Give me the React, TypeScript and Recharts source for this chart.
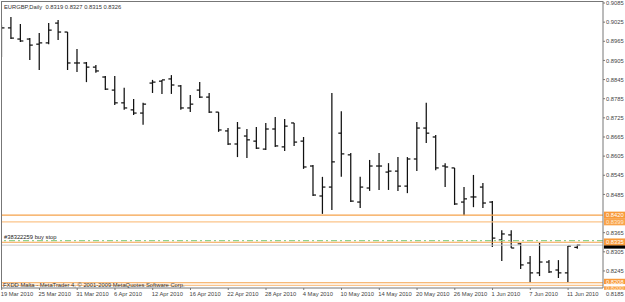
import React from 'react';
import { ComposedChart, Bar, XAxis, YAxis, ReferenceLine } from 'recharts';

// EURGBP daily bars, 19 Mar 2010 .. 14 Jun 2010 (weekdays only)
const dates = [
  '19 Mar 2010', '22 Mar 2010', '23 Mar 2010', '24 Mar 2010', '25 Mar 2010', '26 Mar 2010',
  '29 Mar 2010', '30 Mar 2010', '31 Mar 2010', '1 Apr 2010', '2 Apr 2010',
  '5 Apr 2010', '6 Apr 2010', '7 Apr 2010', '8 Apr 2010', '9 Apr 2010',
  '12 Apr 2010', '13 Apr 2010', '14 Apr 2010', '15 Apr 2010', '16 Apr 2010',
  '19 Apr 2010', '20 Apr 2010', '21 Apr 2010', '22 Apr 2010', '23 Apr 2010',
  '26 Apr 2010', '27 Apr 2010', '28 Apr 2010', '29 Apr 2010', '30 Apr 2010',
  '3 May 2010', '4 May 2010', '5 May 2010', '6 May 2010', '7 May 2010',
  '10 May 2010', '11 May 2010', '12 May 2010', '13 May 2010', '14 May 2010',
  '17 May 2010', '18 May 2010', '19 May 2010', '20 May 2010', '21 May 2010',
  '24 May 2010', '25 May 2010', '26 May 2010', '27 May 2010', '28 May 2010',
  '31 May 2010', '1 Jun 2010', '2 Jun 2010', '3 Jun 2010', '4 Jun 2010',
  '7 Jun 2010', '8 Jun 2010', '9 Jun 2010', '10 Jun 2010', '11 Jun 2010',
  '14 Jun 2010',
];

const opens = [
  0.9000, 0.9007, 0.8972, 0.8972, 0.8956, 0.8960, 0.9022, 0.8994, 0.8897, 0.8897,
  0.8884, 0.8853, 0.8812, 0.8772, 0.8750, 0.8740, 0.8834, 0.8840, 0.8847, 0.8825,
  0.8756, 0.8812, 0.8790, 0.8743, 0.8684, 0.8643, 0.8668, 0.8652, 0.8627, 0.8690,
  0.8634, 0.8709, 0.8652, 0.8574, 0.8480, 0.8508, 0.8677, 0.8609, 0.8461, 0.8505,
  0.8574, 0.8555, 0.8558, 0.8511, 0.8596, 0.8693, 0.8665, 0.8574, 0.8568, 0.8461,
  0.8477, 0.8508, 0.8461, 0.8342, 0.8358, 0.8330, 0.8270, 0.8239, 0.8273, 0.8248,
  0.8239, 0.8319,
];

const highs = [
  0.9016, 0.9041, 0.9019, 0.8975, 0.8991, 0.9022, 0.9032, 0.8994, 0.8941, 0.8900,
  0.8891, 0.8856, 0.8856, 0.8819, 0.8784, 0.8772, 0.8844, 0.8844, 0.8859, 0.8828,
  0.8797, 0.8837, 0.8803, 0.8743, 0.8693, 0.8712, 0.8690, 0.8696, 0.8709, 0.8728,
  0.8721, 0.8709, 0.8665, 0.8577, 0.8540, 0.8803, 0.8746, 0.8615, 0.8540, 0.8593,
  0.8615, 0.8583, 0.8602, 0.8602, 0.8712, 0.8772, 0.8671, 0.8583, 0.8568, 0.8508,
  0.8546, 0.8521, 0.8464, 0.8373, 0.8373, 0.8333, 0.8292, 0.8333, 0.8279, 0.8279,
  0.8323, 0.8327,
];

const lows = [
  0.8916, 0.8972, 0.8963, 0.8906, 0.8875, 0.8956, 0.8969, 0.8875, 0.8869, 0.8837,
  0.8866, 0.8812, 0.8765, 0.8750, 0.8734, 0.8703, 0.8803, 0.8800, 0.8800, 0.8750,
  0.8743, 0.8787, 0.8740, 0.8681, 0.8640, 0.8602, 0.8599, 0.8627, 0.8624, 0.8634,
  0.8621, 0.8637, 0.8565, 0.8480, 0.8424, 0.8436, 0.8540, 0.8461, 0.8442, 0.8496,
  0.8499, 0.8499, 0.8496, 0.8489, 0.8558, 0.8646, 0.8561, 0.8508, 0.8452, 0.8420,
  0.8445, 0.8442, 0.8320, 0.8276, 0.8317, 0.8251, 0.8210, 0.8229, 0.8239, 0.8223,
  0.8210, 0.8315,
];

const closes = [
  0.9007, 0.8975, 0.8966, 0.8953, 0.8960, 0.9000, 0.8994, 0.8897, 0.8897, 0.8884,
  0.8872, 0.8815, 0.8772, 0.8756, 0.8740, 0.8768, 0.8837, 0.8844, 0.8828, 0.8756,
  0.8768, 0.8790, 0.8743, 0.8687, 0.8643, 0.8693, 0.8656, 0.8630, 0.8690, 0.8637,
  0.8699, 0.8649, 0.8571, 0.8483, 0.8508, 0.8587, 0.8612, 0.8464, 0.8508, 0.8574,
  0.8574, 0.8558, 0.8511, 0.8596, 0.8693, 0.8677, 0.8568, 0.8571, 0.8455, 0.8471,
  0.8477, 0.8458, 0.8348, 0.8361, 0.8317, 0.8264, 0.8239, 0.8273, 0.8242, 0.8239,
  0.8323, 0.8326,
];

// 0.8425 sits under the 0.8420 price box in MT4, so it is not shown
const priceTicks = [
  0.9085, 0.9025, 0.8965, 0.8905, 0.8845, 0.8785, 0.8725, 0.8665,
  0.8605, 0.8545, 0.8485, 0.8365, 0.8305, 0.8245,
];
const lowestTick = 0.8185;
const dateTicks = [0, 4, 8, 12, 16, 20, 24, 28, 32, 36, 40, 44, 48, 52, 56, 60];

// order / price levels
const upperLevels = [0.8420, 0.8399];
const lowerLevels = [0.8208, 0.8200];
const sellLevel = 0.8335;
const buyStopLevel = 0.8340;
const bidLevel = 0.8326;
const buyStopTicket = '#38322259 buy stop';

const data = dates.map((date, i) => ({
  i,
  date,
  open: opens[i],
  high: highs[i],
  low: lows[i],
  close: closes[i],
}));

const FONT = '"Liberation Sans", Arial, sans-serif';
const FS = 5.8;

function OhlcBar(props: any) {
  const { x, y, width, height, payload } = props;
  const cx = x + width / 2;
  const top = Math.min(y, y + height);
  const bot = Math.max(y, y + height);
  const span = payload.high - payload.low;
  const py = (p: number) => (span > 0 ? top + ((payload.high - p) / span) * (bot - top) : top);
  const yo = py(payload.open);
  const yc = py(payload.close);
  return (
    <g stroke="#111" strokeWidth={1.25}>
      <line x1={cx} x2={cx} y1={top} y2={Math.max(bot, top + 1)} />
      <line x1={cx - 3} x2={cx} y1={yo} y2={yo} />
      <line x1={cx} x2={cx + 3} y1={yc} y2={yc} />
    </g>
  );
}

function PriceTick({ x, y, payload }: any) {
  return (
    <text x={x} y={y} dy={2.1} fontSize={FS} fill="#444" fontFamily={FONT}>
      {Number(payload.value).toFixed(4)}
    </text>
  );
}

function DateTick({ x, y, payload }: any) {
  return (
    <text x={x - 1} y={y} dy={6} fontSize={FS} fill="#444" fontFamily={FONT}>
      {dates[payload.value]}
    </text>
  );
}

// box on the price axis; up/down shift the box relative to its line
function priceBox(text: string, fill: string, color: string, up = 3.5, down = 3.5) {
  return (p: any) => {
    const vb = p.viewBox || {};
    const bx = vb.x + vb.width + 1;
    const by = vb.y - up;
    const h = up + down;
    return (
      <g>
        <rect x={bx} y={by} width={22} height={h} fill={fill} />
        {text ? (
          <text x={bx + 2} y={by + h / 2 + 2.1} fontSize={FS} fill={color} fontFamily={FONT}>
            {text}
          </text>
        ) : null}
      </g>
    );
  };
}

function plainAxisText(text: string) {
  return (p: any) => {
    const vb = p.viewBox || {};
    return (
      <text x={vb.x + vb.width + 3} y={vb.y + 5.5} fontSize={FS} fill="#444" fontFamily={FONT}>
        {text}
      </text>
    );
  };
}

function ticketLabel(p: any) {
  const vb = p.viewBox || {};
  return (
    <text x={vb.x + 3} y={vb.y - 2} fontSize={FS} fill="#222" fontFamily={FONT}>
      {buyStopTicket}
    </text>
  );
}

export default function App() {
  return (
    <div style={{ position: 'absolute', left: 0, top: 0, width: 625, height: 302, background: '#fff' }}>
      <ComposedChart
        width={625}
        height={302}
        data={data}
        margin={{ top: 1, right: 0, bottom: 0, left: 1 }}
      >
        <XAxis
          dataKey="i"
          type="number"
          domain={[-0.074, 63.7]}
          allowDataOverflow
          ticks={dateTicks}
          interval={0}
          height={14}
          tick={<DateTick />}
          tickSize={2}
          tickMargin={0}
          stroke="#777"
        />
        <YAxis
          orientation="right"
          type="number"
          domain={[0.81916, 0.90913]}
          allowDataOverflow
          ticks={priceTicks}
          interval={0}
          width={22}
          tick={<PriceTick />}
          tickSize={2}
          tickMargin={1}
          stroke="#777"
        />
        <ReferenceLine y={lowestTick} stroke="none" ifOverflow="visible" label={plainAxisText(lowestTick.toFixed(4))} />
        <ReferenceLine y={bidLevel} stroke="#c8c8c8" strokeWidth={1} label={priceBox('', '#000', '#fff', 0, 3.5)} />
        <ReferenceLine y={buyStopLevel} stroke="#8fd28f" strokeWidth={1.2} strokeDasharray="6 3 2 3" label={ticketLabel} />
        <ReferenceLine y={sellLevel} stroke="#f5a24a" strokeWidth={1.2} label={priceBox(sellLevel.toFixed(4), '#f89a3a', '#fff', 3.8, 3.2)} />
        <ReferenceLine y={upperLevels[0]} stroke="#f5a24a" strokeWidth={1.2} label={priceBox(upperLevels[0].toFixed(4), '#f89a3a', '#fff')} />
        <ReferenceLine y={upperLevels[1]} stroke="#fbc48a" strokeWidth={1.2} label={priceBox(upperLevels[1].toFixed(4), '#f9a34a', '#ffe8d0')} />
        <ReferenceLine y={lowerLevels[0]} stroke="#f5a24a" strokeWidth={1.2} label={priceBox(lowerLevels[0].toFixed(4), '#f89a3a', '#fff', 4, 1.3)} />
        <ReferenceLine y={lowerLevels[1]} stroke="#fbc48a" strokeWidth={1.2} label={priceBox(lowerLevels[1].toFixed(4), '#f9a34a', '#ffe8d0', -1, 4.5)} />
        <Bar
          dataKey={(d: any) => [d.low, d.high]}
          barSize={7}
          isAnimationActive={false}
          shape={(p: any) => <OhlcBar {...p} />}
        />
      </ComposedChart>
      <div
        style={{
          position: 'absolute', left: 1, top: 1, width: 602, height: 287,
          borderLeft: '1px solid #777', borderTop: '1px solid #777', boxSizing: 'border-box',
          pointerEvents: 'none',
        }}
      />
      <div
        style={{
          position: 'absolute', left: 4, top: 4, fontFamily: FONT, fontSize: FS,
          lineHeight: '7px', color: '#333', whiteSpace: 'pre',
        }}
      >
        {'EURGBP,Daily  0.8319 0.8327 0.8315 0.8326'}
      </div>
      <div
        style={{
          position: 'absolute', left: 3, top: 282, fontFamily: FONT, fontSize: FS,
          lineHeight: '7px', color: '#333', whiteSpace: 'pre',
        }}
      >
        {'FXDD Malta - MetaTrader 4, © 2001-2009 MetaQuotes Software Corp.'}
      </div>
    </div>
  );
}
